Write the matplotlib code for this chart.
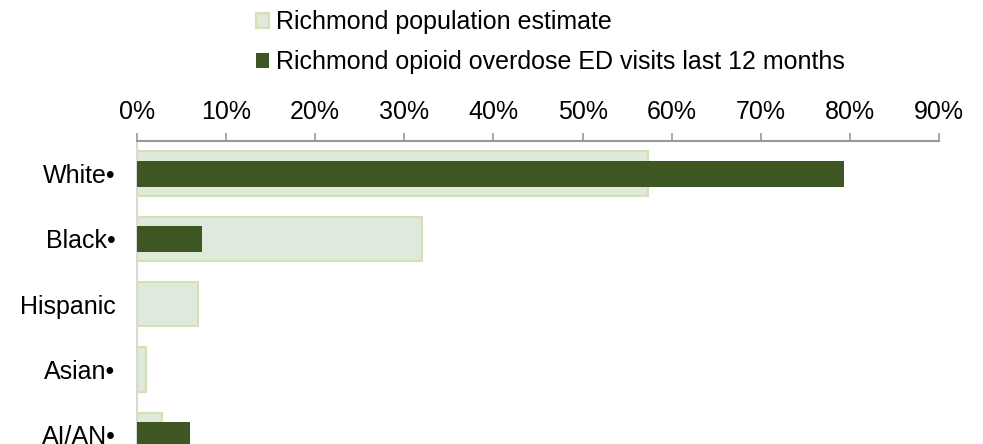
import matplotlib
matplotlib.use('Agg')
import matplotlib.pyplot as plt
from matplotlib.patches import Patch
from matplotlib.ticker import PercentFormatter
import numpy as np

plt.rcParams['font.family'] = ['Liberation Sans', 'DejaVu Sans']

# Datos (porcentajes)
categorias = ['White•', 'Black•', 'Hispanic', 'Asian•', 'AI/AN•']
poblacion = [57.4, 32.0, 6.8, 1.0, 2.8]
visitas_ed = [79.3, 7.3, 0.0, 0.0, 5.9]
etiquetas_x = [0, 10, 20, 30, 40, 50, 60, 70, 80, 90]

color_pob = '#DFE9DC'
borde_pob = '#D3E2B5'
color_ed = '#3E5622'
tam = 18

W, H = 983, 444
fig = plt.figure(figsize=(W / 100, H / 100), dpi=100)

# ejes: izquierda 137px, derecha 939px, arriba 141px, abajo borde de la figura
ax = fig.add_axes([137 / W, 0, (939 - 137) / W, (H - 141) / H])

y = np.arange(len(categorias))
ax.barh(y, poblacion, height=0.68, color=color_pob, edgecolor=borde_pob,
        linewidth=1.5, zorder=2)
ax.barh(y, visitas_ed, height=0.40, color=color_ed, edgecolor='none', zorder=3)

ax.set_xlim(0, 90)
ax.set_ylim(-0.5 + (H - 141) / 65.3, -0.5)

ax.xaxis.tick_top()
ax.set_xticks(etiquetas_x)
ax.xaxis.set_major_formatter(PercentFormatter(decimals=0))
ax.tick_params(axis='x', direction='out', length=6, color='#999999',
               width=1.2, labelsize=tam, pad=6)
ax.set_yticks(y)
ax.set_yticklabels(categorias)
ax.tick_params(axis='y', length=0, labelsize=tam, pad=15.5)

for s in ['right', 'bottom']:
    ax.spines[s].set_visible(False)
ax.spines['top'].set_color('#999999')
ax.spines['top'].set_linewidth(1.5)
ax.spines['left'].set_color('#D9D9D9')
ax.spines['left'].set_linewidth(1.5)

handles = [Patch(facecolor=color_pob, edgecolor=borde_pob, linewidth=1.5),
           Patch(facecolor=color_ed, edgecolor='none')]
etiquetas = ['Richmond population estimate',
             'Richmond opioid overdose ED visits last 12 months']
fig.legend(handles, etiquetas, loc='upper left',
           bbox_to_anchor=(243 / W, 1 + 2 / H),
           frameon=False, fontsize=tam, handlelength=0.53, handleheight=0.53,
           handletextpad=0.28, labelspacing=0.62, borderpad=0)

fig.savefig('out.png', dpi=100)
